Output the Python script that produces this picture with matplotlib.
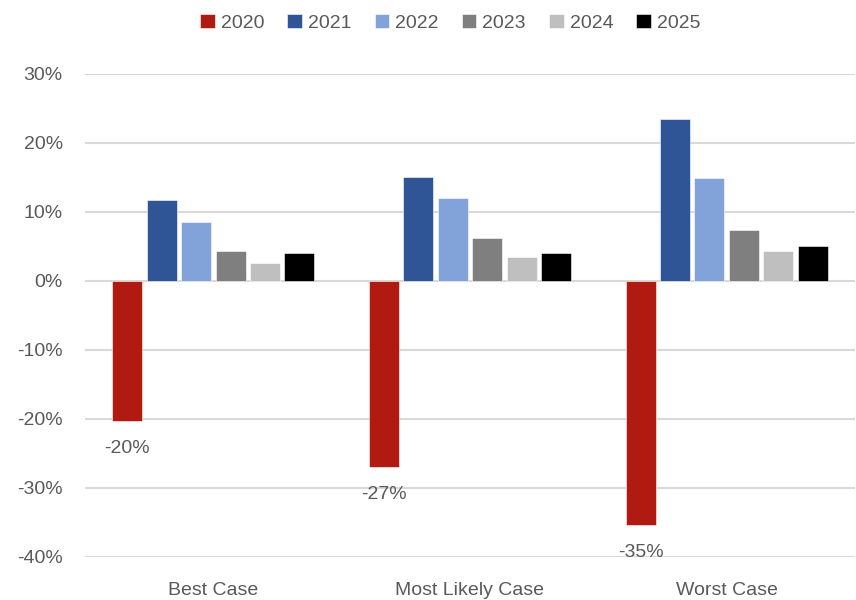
import matplotlib
matplotlib.use("Agg")
import matplotlib.pyplot as plt
import numpy as np
from matplotlib.ticker import PercentFormatter

categories = ["Best Case", "Most Likely Case", "Worst Case"]
years = ["2020", "2021", "2022", "2023", "2024", "2025"]
v2020 = [-20.3, -27.0, -35.4]
v2021 = [11.7, 15.1, 23.5]
v2022 = [8.6, 12.0, 14.9]
v2023 = [4.3, 6.2, 7.4]
v2024 = [2.6, 3.5, 4.3]
v2025 = [4.1, 4.1, 5.1]
labels2020 = ["-20%", "-27%", "-35%"]
colors = ["#B11A11", "#2F5597", "#82A2DA", "#7F7F7F", "#BFBFBF", "#000000"]

plt.rcParams["font.family"] = ["Liberation Sans", "DejaVu Sans"]
plt.rcParams["axes.unicode_minus"] = False

series = [v2020, v2021, v2022, v2023, v2024, v2025]
text_color = "#595959"

fig = plt.figure(figsize=(8.56, 6.0), dpi=100)
ax = fig.add_axes([0.0993, 0.0717, 0.8995, 0.805])

x = np.arange(len(categories))
step = 0.134
width = 0.117
for i, (vals, yr, c) in enumerate(zip(series, years, colors)):
    ax.bar(x + (i - 2.5) * step, vals, width=width, color=c, label=yr, zorder=3,
           edgecolor="white", linewidth=0.4)

for xi, v, lab in zip(x, v2020, labels2020):
    ax.annotate(lab, (xi - 2.5 * step, v), xytext=(0, -19.5), textcoords="offset points",
                ha="center", va="center", fontsize=14, color=text_color)

ax.set_xlim(-0.5, 2.5)
ax.set_ylim(-40, 30)
ax.set_yticks(np.arange(-40, 31, 10))
ax.yaxis.set_major_formatter(PercentFormatter(decimals=0))
ax.set_xticks(x)
ax.set_xticklabels(categories)
ax.grid(axis="y", color="#D9D9D9", linewidth=1.5, zorder=0)
for s in ax.spines.values():
    s.set_visible(False)
ax.tick_params(axis="both", length=0, labelsize=14, labelcolor=text_color)
ax.tick_params(axis="y", pad=16)
ax.tick_params(axis="x", pad=18)

leg = fig.legend(loc="center", bbox_to_anchor=(0.526, 0.962), ncol=6, frameon=False,
                 fontsize=14, handlelength=0.75, handleheight=0.75, handletextpad=0.3,
                 columnspacing=1.2, labelcolor=text_color)

fig.savefig("out.png", dpi=100)
